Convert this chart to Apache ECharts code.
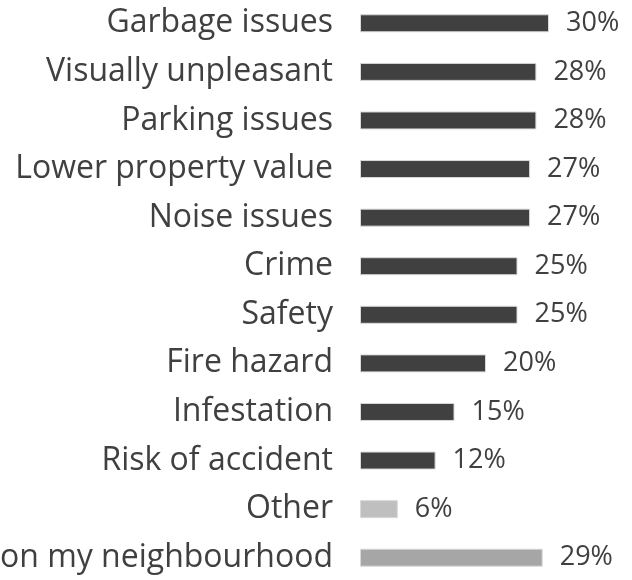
<!DOCTYPE html>
<html>
<head>
<meta charset="utf-8">
<script src="https://cdn.jsdelivr.net/npm/echarts@6/dist/echarts.min.js"></script>
<style>
  html, body { margin: 0; padding: 0; background: #fff; }
  #chart { width: 632px; height: 580px; }
</style>
</head>
<body>
<div id="chart"></div>
<script>
// 问题类别与占比
var categories = ['Garbage issues', 'Visually unpleasant', 'Parking issues', 'Lower property value',
    'Noise issues', 'Crime', 'Safety', 'Fire hazard', 'Infestation', 'Risk of accident',
    'Other', 'on my neighbourhood'];
var values = [30, 28, 28, 27, 27, 25, 25, 20, 15, 12, 6, 29];
var barColors = ['#404040', '#404040', '#404040', '#404040', '#404040', '#404040',
    '#404040', '#404040', '#404040', '#404040', '#bfbfbf', '#a6a6a6'];

var chart = echarts.init(document.getElementById('chart'));

var option = {
    animation: false,
    grid: {
        left: 360,
        right: 20,
        top: -1,
        bottom: -2,
        containLabel: false,
        outerBoundsMode: 'none'
    },
    xAxis: {
        type: 'value',
        min: 0,
        max: 40,
        show: false
    },
    yAxis: {
        type: 'category',
        inverse: true,
        data: categories,
        axisLine: { show: false },
        axisTick: { show: false },
        axisLabel: {
            margin: 27,
            fontFamily: 'Open Sans',
            fontSize: 32,
            color: '#404040',
            padding: [4, 0, 0, 0]
        }
    },
    series: [
        {
            type: 'bar',
            barWidth: 18,
            data: values.map(function (v, i) {
                return { value: v, itemStyle: { color: barColors[i] } };
            }),
            itemStyle: {
                borderColor: '#d9d9d9',
                borderWidth: 1
            },
            label: {
                show: true,
                position: 'right',
                distance: 17,
                fontFamily: 'Open Sans',
                fontSize: 27,
                color: '#404040',
                padding: [6, 0, 0, 0],
                formatter: function (p) { return p.value + '%'; }
            }
        }
    ]
};

chart.setOption(option);
</script>
</body>
</html>
